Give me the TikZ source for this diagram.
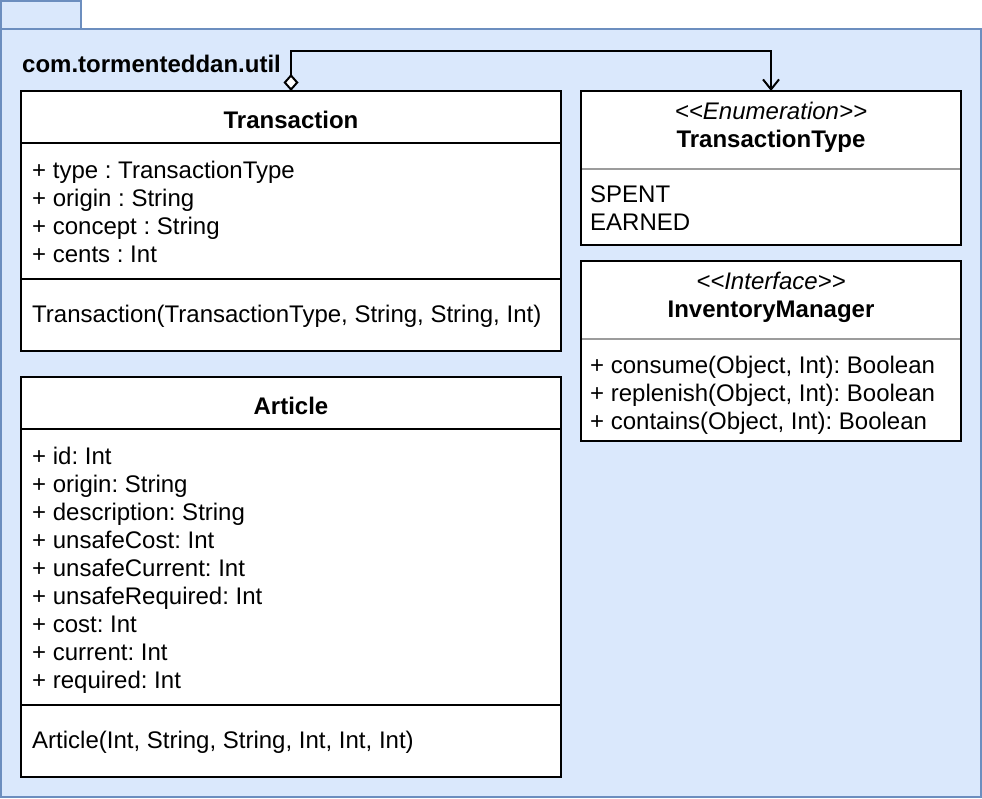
\documentclass[tikz,border=0pt]{standalone}
\usepackage{fontspec}
\setmainfont{Liberation Sans}
\usetikzlibrary{arrows.meta}
\definecolor{pkgfill}{HTML}{DAE8FC}
\definecolor{pkgline}{HTML}{6C8EBF}
\definecolor{sepgray}{HTML}{9C9C9C}
\newcommand\umlfont{\fontsize{24}{28}\selectfont}
\frenchspacing
\begin{document}
\frenchspacing
\begin{tikzpicture}[x=1pt,y=-1pt,
  pkgbox/.style={draw=pkgline, fill=pkgfill, line width=2pt, anchor=north west, inner sep=0pt, outer sep=0pt},
  classbox/.style={draw=black, fill=white, line width=2pt, anchor=north west, inner sep=0pt, outer sep=0pt},
  sepline/.style={draw=black, line width=2pt},
  graysep/.style={draw=sepgray, line width=2pt},
  txt/.style={anchor=base west, inner sep=0pt, font=\umlfont},
  ctxt/.style={anchor=base, inner sep=0pt, font=\umlfont},
  btxt/.style={anchor=base, inner sep=0pt, font=\umlfont\bfseries},
  itxt/.style={anchor=base, inner sep=0pt, font=\umlfont\itshape},
  conn/.style={draw=black, line width=2pt}
]
\useasboundingbox (0,0) rectangle (982,798);
% package
\node[pkgbox, minimum width=80pt, minimum height=28pt] (tab) at (1,1) {};
\node[pkgbox, minimum width=980pt, minimum height=768pt] (pkg) at (1,29) {};
\node[anchor=base west, inner sep=0pt, font=\umlfont\bfseries] (pkgname) at (22,72) {com.tormenteddan.util};

% Transaction
\node[classbox, minimum width=540pt, minimum height=260pt] (trans) at (21,91) {};
\draw[sepline] (trans.west |- 0,143) -- (trans.east |- 0,143);
\draw[sepline] (trans.west |- 0,279) -- (trans.east |- 0,279);
\node[btxt] (transname) at (291,128) {Transaction};
\node[txt] (ta1) at (32,178) {+ type : TransactionType};
\node[txt] (ta2) at (32,206) {+ origin : String};
\node[txt] (ta3) at (32,234) {+ concept : String};
\node[txt] (ta4) at (32,262) {+ cents : Int};
\node[txt] (tm1) at (32,322) {Transaction(TransactionType, String, String, Int)};

% Article
\node[classbox, minimum width=540pt, minimum height=400pt] (art) at (21,377) {};
\draw[sepline] (art.west |- 0,429) -- (art.east |- 0,429);
\draw[sepline] (art.west |- 0,705) -- (art.east |- 0,705);
\node[btxt] (artname) at (291,414) {Article};
\node[txt] (aa1) at (32,464) {+ id: Int};
\node[txt] (aa2) at (32,492) {+ origin: String};
\node[txt] (aa3) at (32,520) {+ description: String};
\node[txt] (aa4) at (32,548) {+ unsafeCost: Int};
\node[txt] (aa5) at (32,576) {+ unsafeCurrent: Int};
\node[txt] (aa6) at (32,604) {+ unsafeRequired: Int};
\node[txt] (aa7) at (32,632) {+ cost: Int};
\node[txt] (aa8) at (32,660) {+ current: Int};
\node[txt] (aa9) at (32,688) {+ required: Int};
\node[txt] (am1) at (32,748) {Article(Int, String, String, Int, Int, Int)};

% TransactionType
\node[classbox, minimum width=380pt, minimum height=154pt] (enum) at (581,91) {};
\draw[graysep] ([xshift=1pt]enum.west |- 0,169) -- ([xshift=-1pt]enum.east |- 0,169);
\node[itxt] (enumst) at (771,119) {{<}{<}Enumeration{>}{>}};
\node[btxt] (enumname) at (771,147) {TransactionType};
\node[txt] (e1) at (590,202) {SPENT};
\node[txt] (e2) at (590,230) {EARNED};

% InventoryManager
\node[classbox, minimum width=380pt, minimum height=180pt] (inv) at (581,261) {};
\draw[graysep] ([xshift=1pt]inv.west |- 0,339) -- ([xshift=-1pt]inv.east |- 0,339);
\node[itxt] (invst) at (771,289) {{<}{<}Interface{>}{>}};
\node[btxt] (invname) at (771,317) {InventoryManager};
\node[txt] (im1) at (590,373) {+ consume(Object, Int): Boolean};
\node[txt] (im2) at (590,401) {+ replenish(Object, Int): Boolean};
\node[txt] (im3) at (590,429) {+ contains(Object, Int): Boolean};

% connector
\draw[conn, {Diamond[open, fill=white, length=17pt, width=15pt]}-{Straight Barb[length=10pt, width=16pt]}]
  (trans.north) -- ++(0,-40) -| (enum.north);
\end{tikzpicture}
\end{document}
